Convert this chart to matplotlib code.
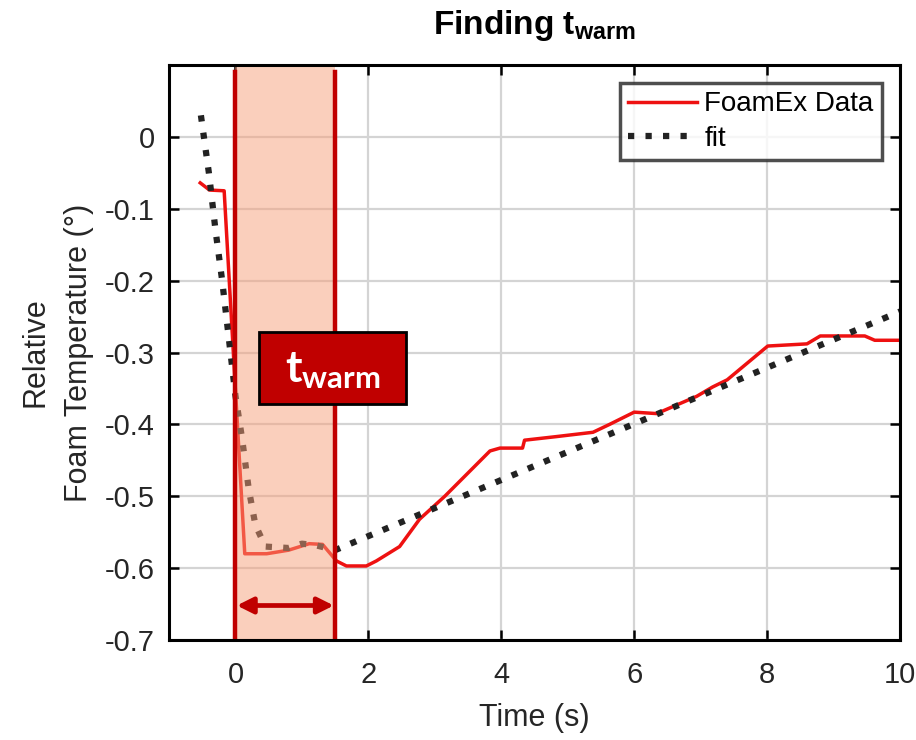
import matplotlib
matplotlib.use("Agg")
import matplotlib.pyplot as plt
from matplotlib.patches import Rectangle

# ---- data ----
data_t = [-0.53, -0.39, -0.17, 0.14, 0.47, 0.8, 1.11, 1.31, 1.52, 1.67, 1.97, 2.12,
          2.47, 2.77, 3.15, 3.83, 3.98, 4.32, 4.35, 4.83, 5.38, 5.63, 6.0, 6.34,
          6.94, 7.18, 7.4, 8.01, 8.6, 8.8, 9.47, 9.62, 10.0]
data_T = [-0.064, -0.074, -0.075, -0.58, -0.58, -0.575, -0.566, -0.567, -0.59, -0.597,
          -0.597, -0.59, -0.57, -0.532, -0.50, -0.437, -0.433, -0.433, -0.422, -0.417,
          -0.411, -0.40, -0.383, -0.385, -0.361, -0.348, -0.338, -0.291, -0.288,
          -0.277, -0.277, -0.283, -0.283]

fit_t = [-0.52, -0.4, -0.3, -0.2, -0.1, 0.0, 0.1, 0.2, 0.3, 0.45, 0.8, 1.0, 1.2, 1.5, 10.0]
fit_T = [0.03, -0.05, -0.13, -0.2, -0.28, -0.36, -0.42, -0.49, -0.54, -0.57,
         -0.572, -0.566, -0.568, -0.575, -0.243]

warm_start = 0.0
warm_end = 1.5

x_ticks = [0, 2, 4, 6, 8, 10]
y_ticks = [-0.7, -0.6, -0.5, -0.4, -0.3, -0.2, -0.1, 0]
y_ticklabels = ["-0.7", "-0.6", "-0.5", "-0.4", "-0.3", "-0.2", "-0.1", "0"]

# ---- style ----
plt.rcParams['font.family'] = ['Liberation Sans', 'DejaVu Sans']
plt.rcParams['mathtext.fontset'] = 'custom'
plt.rcParams['mathtext.rm'] = 'Liberation Sans'
plt.rcParams['mathtext.sf'] = 'Liberation Sans:bold'
plt.rcParams['mathtext.bf'] = 'Lato:bold'

fig = plt.figure(figsize=(9.16, 7.40), dpi=100)
ax = fig.add_axes([169/916, 1 - 640/740, (900 - 169)/916, (640 - 65)/740])

ax.set_xlim(-1, 10)
ax.set_ylim(-0.7, 0.1)

ax.grid(True, color='#d4d4d4', linewidth=1.6, zorder=0)
ax.set_axisbelow(True)

ax.plot(data_t, data_T, color='#ee1111', linewidth=2.5, zorder=3, label='FoamEx Data')
ax.plot(fit_t, fit_T, color='#222222', linewidth=4.5, linestyle=(0, (1, 1.8)),
        dash_capstyle='butt', zorder=4, label='fit')

# shaded t_warm window
ax.axvspan(warm_start, warm_end, color='#f7a07a', alpha=0.5, linewidth=0, zorder=5)
ax.axvline(warm_start, ymin=0, ymax=0.988, color='#c00000', linewidth=3.2, zorder=6)
ax.axvline(warm_end, ymin=0, ymax=0.988, color='#c00000', linewidth=3.2, zorder=6)

# double arrow
ax.annotate('', xy=(warm_end - 0.02, -0.652), xytext=(warm_start + 0.02, -0.652),
            arrowprops=dict(arrowstyle='<|-|>', color='#c00000', lw=3.4,
                            mutation_scale=24, shrinkA=0, shrinkB=0), zorder=7)

# t_warm box
ax.add_patch(Rectangle((0.36, -0.371), 2.21, 0.1, facecolor='#c00000',
                       edgecolor='black', linewidth=2, zorder=8))
ax.text(0.74, -0.341, r'$\mathbf{t_{warm}}$', color='white', fontsize=32,
        ha='left', va='baseline', zorder=9)

ax.set_xticks(x_ticks)
ax.set_yticks(y_ticks)
ax.set_yticklabels(y_ticklabels)
ax.tick_params(direction='in', length=7, width=1.8, top=True, right=True,
               labelsize=21, labelcolor='#262626', pad=10)
ax.tick_params(axis='x', pad=15)
for s in ax.spines.values():
    s.set_linewidth(2.2)
    s.set_color('black')
    s.set_zorder(10)

ax.set_xlabel('Time (s)', fontsize=22, color='#262626', labelpad=10)
ax.set_ylabel('Relative\nFoam Temperature (°)', fontsize=22, color='#262626', labelpad=8,
              linespacing=1.6)
ax.set_title(r'Finding $\mathsf{t_{warm}}$', fontsize=24, fontweight='bold', pad=22)

leg = ax.legend(loc='upper right', fontsize=20, frameon=True, fancybox=False,
                borderaxespad=0.65, handlelength=2.5, handletextpad=0.25,
                borderpad=0.3, labelspacing=0.3)
leg.get_frame().set_edgecolor('#222222')
leg.get_frame().set_linewidth(2.5)
leg.set_zorder(11)

fig.savefig('out.png', dpi=100)
